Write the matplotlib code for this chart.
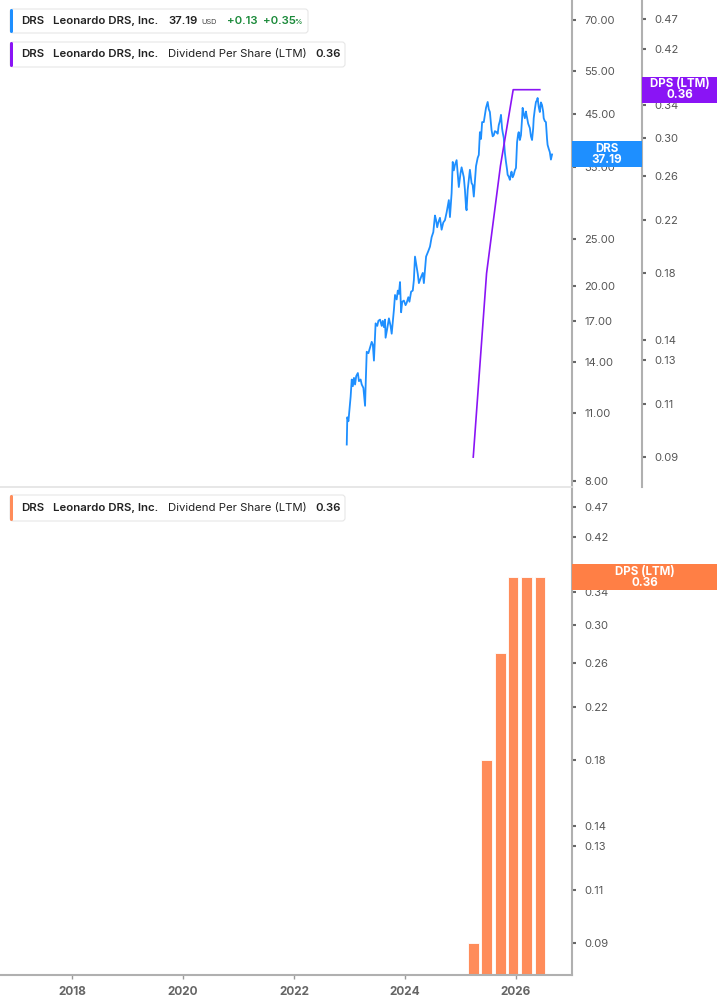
import matplotlib.pyplot as plt
from matplotlib.patches import Rectangle, FancyBboxPatch
from matplotlib.ticker import FixedLocator, NullLocator, FuncFormatter
from matplotlib.transforms import IdentityTransform

plt.rcParams['font.family'] = ['Inter', 'DejaVu Sans']

# DRS close price (fractional years)
price_years = [
    2022.95, 2022.96, 2022.98, 2023.02, 2023.04, 2023.06, 2023.08, 2023.10, 2023.12, 2023.15,
    2023.17, 2023.20, 2023.22, 2023.25, 2023.28, 2023.29, 2023.31, 2023.34, 2023.37, 2023.40,
    2023.42, 2023.44, 2023.46, 2023.47, 2023.50, 2023.52, 2023.55, 2023.58, 2023.60, 2023.62,
    2023.64, 2023.65, 2023.68, 2023.71, 2023.74, 2023.76, 2023.78, 2023.80, 2023.82, 2023.85,
    2023.87, 2023.89, 2023.91, 2023.93, 2023.95, 2023.98, 2024.01, 2024.03, 2024.06, 2024.08,
    2024.11, 2024.14, 2024.16, 2024.18, 2024.21, 2024.23, 2024.25, 2024.29, 2024.32, 2024.34,
    2024.38, 2024.42, 2024.45, 2024.48, 2024.51, 2024.54, 2024.56, 2024.58, 2024.60, 2024.63,
    2024.66, 2024.69, 2024.72, 2024.75, 2024.79, 2024.81, 2024.84, 2024.86, 2024.88, 2024.90,
    2024.93, 2024.95, 2024.97, 2025.00, 2025.02, 2025.06, 2025.08, 2025.10, 2025.11, 2025.13,
    2025.17, 2025.20, 2025.22, 2025.24, 2025.28, 2025.31, 2025.33, 2025.35, 2025.37, 2025.39,
    2025.42, 2025.44, 2025.46, 2025.49, 2025.51, 2025.53, 2025.55, 2025.56, 2025.58, 2025.60,
    2025.62, 2025.65, 2025.67, 2025.69, 2025.71, 2025.73, 2025.75, 2025.76, 2025.78, 2025.80,
    2025.82, 2025.84, 2025.85, 2025.87, 2025.89, 2025.91, 2025.92, 2025.94, 2025.96, 2025.98,
    2026.00, 2026.02, 2026.04, 2026.05, 2026.07, 2026.09, 2026.11, 2026.12, 2026.14, 2026.16,
    2026.18, 2026.19, 2026.22, 2026.25, 2026.27, 2026.29, 2026.31, 2026.32, 2026.34, 2026.36,
    2026.38, 2026.39, 2026.41, 2026.43, 2026.45, 2026.47, 2026.49, 2026.50, 2026.52, 2026.54,
    2026.56, 2026.57, 2026.59, 2026.61, 2026.63, 2026.65,
]
price_values = [
    9.5, 10.8, 10.6, 11.9, 12.9, 12.5, 13.0, 12.6, 13.1, 13.3,
    12.8, 12.9, 12.6, 12.4, 11.4, 12.5, 14.7, 14.6, 15.0, 15.4,
    15.2, 14.1, 15.8, 16.8, 16.6, 17.0, 17.1, 16.6, 17.0, 16.5,
    17.1, 15.7, 16.4, 17.2, 16.6, 16.0, 16.9, 17.9, 19.2, 18.8,
    19.6, 19.3, 20.4, 17.7, 18.6, 18.7, 18.3, 18.5, 19.0, 18.6,
    19.5, 19.6, 20.6, 23.0, 21.9, 21.2, 20.3, 20.9, 21.3, 20.3,
    23.0, 23.6, 24.1, 25.2, 25.8, 27.9, 27.3, 26.4, 27.0, 27.6,
    26.1, 27.0, 27.3, 28.3, 30.0, 27.7, 31.0, 35.9, 34.5, 35.4,
    36.2, 34.0, 31.9, 34.0, 35.0, 33.4, 31.5, 29.0, 28.6, 31.5,
    34.6, 32.5, 32.2, 30.5, 35.2, 36.6, 37.1, 41.3, 40.0, 43.3,
    43.3, 44.8, 46.3, 47.6, 46.0, 45.4, 43.0, 41.7, 40.5, 40.7,
    41.5, 41.3, 41.0, 42.7, 43.5, 44.8, 42.0, 41.3, 40.2, 37.5,
    35.9, 34.6, 33.8, 33.5, 33.0, 34.0, 34.3, 33.4, 33.8, 34.5,
    34.9, 39.4, 41.0, 41.3, 39.8, 40.7, 44.0, 46.3, 45.0, 44.1,
    45.5, 44.8, 43.0, 42.1, 40.5, 39.8, 42.0, 44.1, 46.0, 47.6,
    48.0, 48.5, 46.5, 45.4, 47.5, 46.9, 45.5, 44.1, 43.5, 43.3,
    40.0, 38.9, 38.2, 37.6, 36.3, 37.19,
]
last_price = 37.19

# Dividend per share (LTM), quarterly
dps_years = [2025.23, 2025.47, 2025.72, 2025.95, 2026.19, 2026.43]
dps_values = [0.09, 0.18, 0.27, 0.36, 0.36, 0.36]
last_dps = 0.36

price_ticks = [8, 11, 14, 17, 20, 25, 35, 45, 55, 70]
dps_ticks_top = [0.09, 0.11, 0.13, 0.14, 0.18, 0.22, 0.26, 0.30, 0.34, 0.42, 0.47]
dps_ticks_bottom = [0.09, 0.11, 0.13, 0.14, 0.18, 0.22, 0.26, 0.30, 0.34, 0.37, 0.42, 0.47]
year_ticks = [2018, 2020, 2022, 2024, 2026]

BLUE = '#1E8FFF'
PURPLE = '#8A14F5'
ORANGE = '#FF8C5A'
ORANGE_TAG = '#FF7F45'
AXIS = '#B0B0B0'
TICKTXT = '#555555'

W, H = 717, 1005
fig = plt.figure(figsize=(W / 100, H / 100), dpi=100)


def fx(x):
    return x / W


def fy(y):
    return 1 - y / H


def style_right_axis(ax, ticks, fmt):
    ax.set_yscale('log')
    ax.yaxis.set_major_locator(FixedLocator(ticks))
    ax.yaxis.set_minor_locator(NullLocator())
    ax.yaxis.set_major_formatter(FuncFormatter(lambda v, p: fmt % v))
    ax.tick_params(axis='y', which='major', direction='out', length=3, width=1.5,
                   color='#666666', labelcolor=TICKTXT, labelsize=8, pad=6,
                   left=False, labelleft=False, right=True, labelright=True)


ax_top = fig.add_axes([0, fy(487), fx(572), 487 / H])
ax_bot = fig.add_axes([0, fy(975), fx(572), 488 / H], sharex=ax_top)
ax_dps = ax_top.twinx()

# top panel: price on log scale
ax_top.plot(price_years, price_values, color=BLUE, linewidth=1.3)
style_right_axis(ax_top, price_ticks, '%.2f')
ax_top.set_ylim(7.78, 76.9)
for s in ['top', 'left', 'bottom']:
    ax_top.spines[s].set_visible(False)
ax_top.spines['right'].set_color(AXIS)
ax_top.spines['right'].set_linewidth(1.5)
ax_top.tick_params(axis='x', bottom=False, labelbottom=False)

# top panel: dividend line on its own axis
ax_dps.plot(dps_years, dps_values, color=PURPLE, linewidth=1.2)
style_right_axis(ax_dps, dps_ticks_top, '%.2f')
ax_dps.set_ylim(0.0804, 0.505)
for s in ['top', 'left', 'bottom']:
    ax_dps.spines[s].set_visible(False)
ax_dps.spines['right'].set_position(('axes', 642 / 572))
ax_dps.spines['right'].set_color(AXIS)
ax_dps.spines['right'].set_linewidth(1.5)

# bottom panel: dividend bars
ax_bot.bar(dps_years, dps_values, width=0.19, color=ORANGE, edgecolor='white', linewidth=0.6)
style_right_axis(ax_bot, dps_ticks_bottom, '%.2f')
ax_bot.set_ylim(0.0797, 0.507)
ax_bot.spines['left'].set_visible(False)
ax_bot.spines['top'].set_color('#E3E3E3')
ax_bot.spines['top'].set_linewidth(1.2)
for s in ['right', 'bottom']:
    ax_bot.spines[s].set_color(AXIS)
    ax_bot.spines[s].set_linewidth(1.5)

ax_bot.set_xlim(2016.70, 2027.01)
ax_bot.xaxis.set_major_locator(FixedLocator(year_ticks))
ax_bot.xaxis.set_minor_locator(NullLocator())
ax_bot.set_xticklabels([str(y) for y in year_ticks])
ax_bot.tick_params(axis='x', direction='out', length=3, width=1, color='#999999',
                   labelcolor='#666666', labelsize=8.5, pad=5)
for lbl in ax_bot.get_xticklabels():
    lbl.set_fontweight('bold')


def value_tag(ax, value, x0, x1, color, text):
    y = ax.transData.transform((2020, value))[1]
    h = 26
    fig.add_artist(Rectangle((x0, y - h / 2), x1 - x0, h, transform=IdentityTransform(),
                             facecolor=color, edgecolor='none', zorder=5))
    fig.text((x0 + x1) / 2, y, text, transform=IdentityTransform(), ha='center', va='center',
             color='white', fontsize=8.3, fontweight='bold', linespacing=0.95, zorder=6)


value_tag(ax_top, last_price, 572, 642, BLUE, 'DRS\n%.2f' % last_price)
value_tag(ax_dps, last_dps, 642, 717, PURPLE, 'DPS (LTM)\n%.2f' % last_dps)
value_tag(ax_bot, last_dps, 572, 717, ORANGE_TAG, 'DPS (LTM)\n%.2f' % last_dps)


def legend_box(x0, y0, x1, y1, color):
    fig.add_artist(FancyBboxPatch((x0, H - y1), x1 - x0, y1 - y0,
                                  boxstyle='round,pad=0,rounding_size=3',
                                  transform=IdentityTransform(), facecolor='white',
                                  edgecolor='#E6E6E6', linewidth=0.8, zorder=4))
    fig.add_artist(FancyBboxPatch((x0, H - y1), 3, y1 - y0,
                                  boxstyle='round,pad=0,rounding_size=1.5',
                                  transform=IdentityTransform(), facecolor=color,
                                  edgecolor='none', zorder=5))


def legend_text(x, y, s, size=8.2, weight='semibold', color='#222222'):
    fig.text(fx(x), fy(y), s, ha='left', va='center', fontsize=size,
             fontweight=weight, color=color, zorder=6)


GREEN = '#1B8A3A'

legend_box(10, 9, 308, 33, BLUE)
legend_text(21, 21, 'DRS')
legend_text(53, 21, 'Leonardo DRS, Inc.')
legend_text(168, 21, '%.2f' % last_price)
legend_text(201, 22, 'USD', size=5.3, weight='normal', color='#444444')
legend_text(227, 21, '+0.13', color=GREEN)
legend_text(263, 21, '+0.35', color=GREEN)
legend_text(294, 22.5, '%', size=5.3, color=GREEN)

legend_box(10, 42, 345, 67, PURPLE)
legend_text(21, 54, 'DRS')
legend_text(53, 54, 'Leonardo DRS, Inc.')
legend_text(168, 54, 'Dividend Per Share (LTM)', weight='normal')
legend_text(315, 54, '%.2f' % last_dps)

legend_box(10, 495, 345, 521, ORANGE)
legend_text(21, 508, 'DRS')
legend_text(53, 508, 'Leonardo DRS, Inc.')
legend_text(168, 508, 'Dividend Per Share (LTM)', weight='normal')
legend_text(315, 508, '%.2f' % last_dps)

fig.savefig('out.png', dpi=100)
